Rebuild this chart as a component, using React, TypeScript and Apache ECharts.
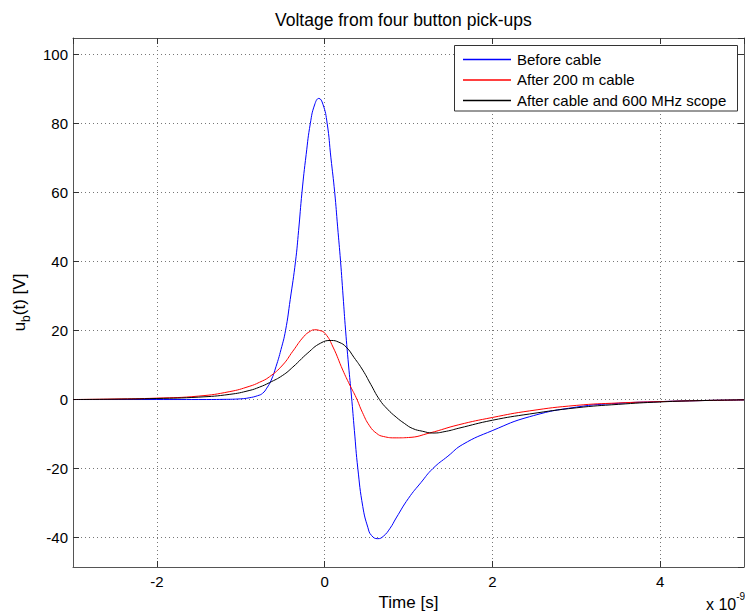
import React, { useEffect, useRef } from 'react';
import * as echarts from 'echarts';

const FONT = "'Liberation Sans', Arial, Helvetica, sans-serif";

const titleText = 'Voltage from four button pick-ups';
const seriesNames = ['Before cable', 'After 200 m cable', 'After cable and 600 MHz scope'];
const seriesColors = ['#0000FF', '#FF0000', '#000000'];

// time in units of 1e-9 s
const beforeT = [-3, -2, -1.5, -1.2, -1.0, -0.9, -0.8, -0.74, -0.69, -0.637, -0.58, -0.52, -0.466, -0.41, -0.347, -0.31, -0.27, -0.22, -0.17, -0.12, -0.069, -0.02, 0.03, 0.075, 0.12, 0.155, 0.19, 0.22, 0.25, 0.285, 0.32, 0.355, 0.396, 0.455, 0.515, 0.56, 0.634, 0.70, 0.78, 0.853, 1.0, 1.15, 1.29, 1.47, 1.647, 2.0, 2.44, 3.0, 3.5, 4.0, 4.5, 5.0];
const beforeV = [0, 0, 0, 0.05, 0.2, 0.5, 1.1, 1.8, 3.3, 5.6, 9.5, 14.5, 20, 29, 40, 49, 60, 71, 80, 85.3, 87.2, 85.5, 80, 70, 60, 50, 40, 30, 20, 10, 1, -9, -20, -31, -37, -39.4, -40.3, -39.6, -37.3, -34.3, -28.6, -24.0, -20.0, -16.4, -13.0, -9.0, -5.0, -2.2, -1.1, -0.6, -0.3, -0.1];

const cableT = [-3, -2.5, -2, -1.5, -1.13, -0.9, -0.776, -0.657, -0.5, -0.379, -0.25, -0.17, -0.12, -0.06, 0.007, 0.1, 0.217, 0.3, 0.377, 0.45, 0.535, 0.62, 0.7, 0.853, 1.0, 1.25, 1.6, 2.0, 2.44, 3.0, 3.5, 4.0, 4.5, 5.0];
const cableV = [0, 0.15, 0.4, 1.0, 2.3, 3.8, 5.0, 6.6, 10, 14, 18.2, 19.8, 20.2, 20, 19.1, 15.2, 8.5, 4.2, 0.5, -3.7, -7.6, -9.8, -10.7, -11.1, -11, -9.7, -7.3, -5.2, -3.3, -1.7, -1.0, -0.6, -0.3, -0.1];

const scopeT = [-3, -2.5, -2, -1.5, -1.13, -0.9, -0.776, -0.657, -0.5, -0.379, -0.2, -0.05, 0.078, 0.17, 0.257, 0.35, 0.455, 0.55, 0.654, 0.75, 0.853, 0.95, 1.05, 1.17, 1.29, 1.45, 1.6, 2.0, 2.44, 3.0, 3.5, 4.0, 4.5, 5.0];
const scopeV = [0, 0.1, 0.3, 0.7, 1.5, 2.6, 3.6, 4.9, 7.0, 9.4, 13.5, 16.3, 17.1, 16.6, 15.2, 12.2, 8.5, 4.4, 0, -2.8, -5.1, -6.9, -8.4, -9.2, -9.7, -9.2, -8.3, -6.0, -4.2, -2.4, -1.4, -0.7, -0.3, -0.1];

const xMin = -3;
const xMax = 5;
const xStep = 2;
const yMin = -48.5;
const yMax = 104.7;
const yStep = 20;

const zip = (t: number[], v: number[]) => t.map((x, i) => [x, v[i]]);

const multipleFmt = (step: number) => (v: number) => {
  const r = v / step;
  return Math.abs(r - Math.round(r)) < 1e-6 ? String(Math.round(v * 1000) / 1000) : '';
};

export default function App() {
  const ref = useRef<HTMLDivElement>(null);

  useEffect(() => {
    if (!ref.current) return;
    const chart = echarts.init(ref.current, null, { renderer: 'svg' });

    const axisLine = { show: true, onZero: false, lineStyle: { color: '#555', width: 1 } };
    const tick = { show: true, inside: true, length: 6, lineStyle: { color: '#333', width: 1 } };
    const split = { show: true, lineStyle: { color: '#777', type: [1, 3], width: 1 } };

    const xBase = { type: 'value', min: xMin, max: xMax, splitNumber: 4, minInterval: xStep, maxInterval: xStep };
    const yBase = { type: 'value', min: yMin, max: yMax, splitNumber: 8, minInterval: yStep, maxInterval: yStep };

    const series = [zip(beforeT, beforeV), zip(cableT, cableV), zip(scopeT, scopeV)].map((d, i) => ({
      type: 'line',
      name: seriesNames[i],
      data: d,
      xAxisIndex: 0,
      yAxisIndex: 0,
      symbol: 'none',
      showSymbol: false,
      smooth: 0.5,
      lineStyle: { color: seriesColors[i], width: 1 },
      itemStyle: { color: seriesColors[i] },
    }));

    // legend box drawn as graphic elements
    const rowY = [59, 79.5, 100];
    const legendEls: any[] = [
      {
        type: 'rect',
        id: 'legend-box',
        z: 100,
        shape: { x: 454.5, y: 45.5, width: 283, height: 65.5 },
        style: { fill: '#ffffff', stroke: '#333333', lineWidth: 1 },
      },
    ];
    seriesNames.forEach((n, i) => {
      legendEls.push({
        type: 'rect',
        id: 'legend-line-' + i,
        z: 101,
        shape: { x: 463, y: rowY[i] - 0.25, width: 48, height: 1.5 },
        style: { fill: seriesColors[i], stroke: 'none', lineWidth: 0 },
      });
      legendEls.push({
        type: 'text',
        id: 'legend-text-' + i,
        z: 101,
        x: 517,
        y: rowY[i],
        style: { text: n, fill: '#000', font: `15px ${FONT}`, verticalAlign: 'middle', align: 'left' },
      });
    });

    chart.setOption({
      animation: false,
      backgroundColor: '#ffffff',
      title: {
        text: titleText,
        left: 275,
        top: 11,
        padding: 0,
        textStyle: { fontSize: 17.5, fontWeight: 'normal', color: '#000', fontFamily: FONT },
      },
      grid: { left: 73, top: 38, right: 1, bottom: 47, containLabel: false, outerBoundsMode: 'none' },
      xAxis: [
        {
          ...xBase,
          position: 'bottom',
          axisLine,
          axisTick: tick,
          axisLabel: { margin: 7, color: '#000', fontSize: 15, fontFamily: FONT, formatter: multipleFmt(xStep), showMinLabel: false, showMaxLabel: false },
          splitLine: split,
          name: 'Time [s]',
          nameLocation: 'middle',
          nameGap: 25,
          nameTextStyle: { fontSize: 17, color: '#000', fontFamily: FONT },
        },
        {
          ...xBase,
          position: 'top',
          axisLine,
          axisTick: tick,
          axisLabel: { show: false },
          splitLine: { show: false },
        },
      ],
      yAxis: [
        {
          ...yBase,
          position: 'left',
          axisLine,
          axisTick: tick,
          axisLabel: { margin: 5, color: '#000', fontSize: 15, fontFamily: FONT, formatter: multipleFmt(yStep), showMinLabel: false, showMaxLabel: false },
          splitLine: split,
          name: '{u|u}{s|b}{u|(t) [V]}',
          nameLocation: 'middle',
          nameRotate: 90,
          nameGap: 37,
          nameTextStyle: {
            color: '#000',
            fontFamily: FONT,
            fontSize: 17,
            rich: {
              u: { fontSize: 17, fontFamily: FONT, color: '#000', verticalAlign: 'top' },
              s: { fontSize: 12, fontFamily: FONT, color: '#000', verticalAlign: 'top', padding: [9, 0, 0, 0] },
            },
          },
        },
        {
          ...yBase,
          position: 'right',
          axisLine,
          axisTick: tick,
          axisLabel: { show: false },
          splitLine: { show: false },
        },
      ],
      graphic: [
        ...legendEls,
        {
          type: 'text',
          id: 'exp-label',
          left: 706,
          top: 591,
          style: {
            text: '{a|x 10}{b|-9}',
            fill: '#000',
            rich: {
              a: { fontSize: 16, fontFamily: FONT, fill: '#000', verticalAlign: 'top', padding: [5, 0, 0, 0] },
              b: { fontSize: 10, fontFamily: FONT, fill: '#000', verticalAlign: 'top' },
            },
          },
        },
      ],
      series,
    });

    return () => chart.dispose();
  }, []);

  return <div ref={ref} style={{ position: 'fixed', left: 0, top: 0, width: 745, height: 614 }} />;
}
